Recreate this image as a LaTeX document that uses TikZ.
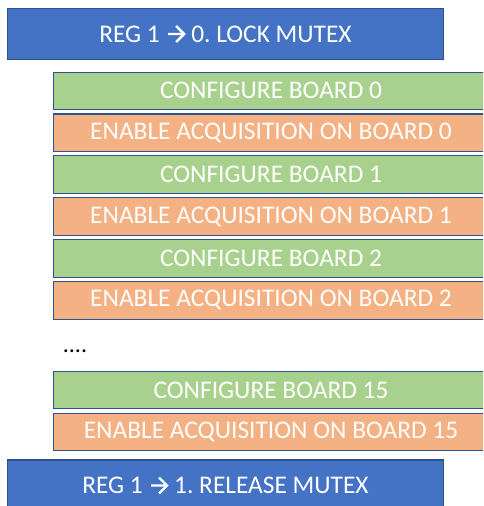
\documentclass[tikz,border=0pt]{standalone}
\usepackage{fontspec}
\setmainfont{Carlito}
\frenchspacing
\usetikzlibrary{positioning}
\definecolor{mutexblue}{HTML}{4472C4}
\definecolor{edgeblue}{HTML}{2F528F}
\definecolor{cfggreen}{HTML}{A9D18E}
\definecolor{acqorange}{HTML}{F4B183}
% chevron arrow as in the register labels
\newcommand{\regarrow}{\tikz[baseline=0pt]\draw[white, line width=2.4pt, miter limit=4]
  (0pt,8.3pt) -- (16pt,8.3pt) (8pt,16.3pt) -- (16pt,8.3pt) -- (8pt,0.3pt);}

\begin{document}
\begin{tikzpicture}[x=1pt, y=1pt,
                    node distance=3.3pt,
                    every node/.style={text=white, font=\fontsize{25.4}{30}\selectfont},
                    box/.style={rectangle, draw=edgeblue, line width=1.1pt, inner sep=0pt},
                    mutex/.style={box, fill=mutexblue, minimum width=436pt, minimum height=51pt},
                    config/.style={box, fill=cfggreen, minimum width=435pt, minimum height=37.5pt},
                    enable/.style={box, fill=acqorange, minimum width=435pt, minimum height=37.5pt},
                    dotsnote/.style={text=black, font=\fontsize{24}{26}\selectfont}]
  \useasboundingbox (0,0) rectangle (483,-506);
  \clip (0,0) rectangle (483,-506);
  \node[mutex](lock) at (225.5,-34) {REG 1\hspace{7pt}\regarrow\hspace{6pt}0. LOCK MUTEX};
  \node[config](cfg0) at (271,-90.8) {CONFIGURE BOARD 0};
  \node[enable](acq0) [below=of cfg0] {ENABLE ACQUISITION ON BOARD 0};
  \node[config](cfg1) [below=of acq0] {CONFIGURE BOARD 1};
  \node[enable](acq1) [below=of cfg1] {ENABLE ACQUISITION ON BOARD 1};
  \node[config](cfg2) [below=of acq1] {CONFIGURE BOARD 2};
  \node[enable](acq2) [below=of cfg2] {ENABLE ACQUISITION ON BOARD 2};
  \node[dotsnote](dots) at (75,-351.5) {....};
  \node[config](cfg15) at (271,-390) {CONFIGURE BOARD 15};
  \node[enable](acq15) [below=of cfg15] {ENABLE ACQUISITION ON BOARD 15};
  \node[mutex](release) at (225.5,-485.5) {REG 1\hspace{7pt}\regarrow\hspace{6pt}1. RELEASE MUTEX};
\end{tikzpicture}
\end{document}
